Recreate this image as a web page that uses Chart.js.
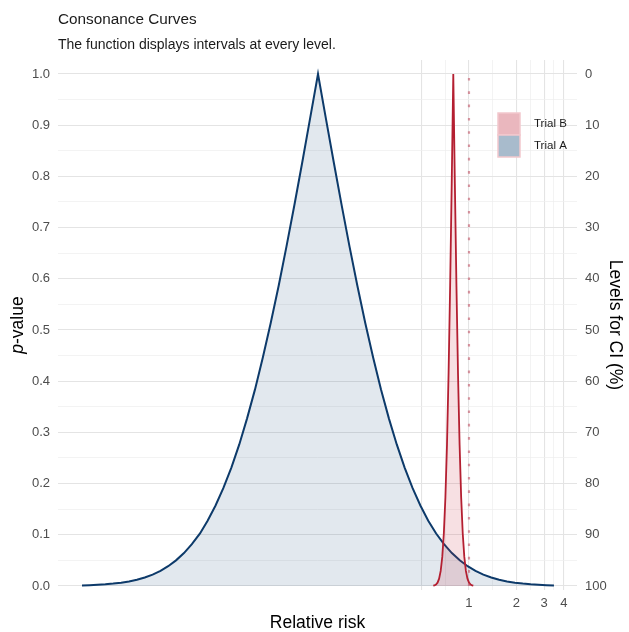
<!DOCTYPE html>
<html><head><meta charset="utf-8">
<script src="https://cdn.jsdelivr.net/npm/chart.js@4.4.1/dist/chart.umd.min.js"></script>
<style>html,body{margin:0;padding:0;background:#fff}canvas{display:block}</style>
</head><body>
<canvas id="c" width="629" height="632"></canvas>
<script>
// ---- text ----
const titleText = "Consonance Curves";
const subtitleText = "The function displays intervals at every level.";
const xAxisTitle = "Relative risk";
const yAxisTitleItalic = "p";
const yAxisTitleRest = "-value";
const y2AxisTitle = "Levels for CI (%)";
const seriesNames = ["Trial A", "Trial B"];

// ---- data ----
const trialA_rr = [0.00349,0.00390,0.00438,0.00491,0.00551,0.00619,0.00694,0.00779,0.00874,0.00980,
  0.0110,0.0123,0.0138,0.0155,0.0174,0.0196,0.0219,0.0246,0.0276,0.0310,
  0.0348,0.0390,0.0438,0.0491,0.0551,0.0619,0.0694,0.0779,0.0874,0.0980,
  0.110,
  0.1234,0.1385,0.1554,0.1743,0.1956,0.2195,0.2463,0.2763,0.3100,0.3479,
  0.3903,0.4379,0.4913,0.5513,0.6186,0.6941,0.7787,0.8738,0.9804,1.100,
  1.234,1.385,1.554,1.743,1.956,2.195,2.463,2.763,3.100,3.463];
const trialA_p = [0.0011,0.0016,0.0023,0.0033,0.0047,0.0065,0.0090,0.0123,0.0167,0.0223,
  0.0295,0.0387,0.0501,0.0643,0.0817,0.1026,0.1276,0.1572,0.1916,0.2313,
  0.2765,0.3274,0.3840,0.4462,0.5138,0.5864,0.6634,0.7440,0.8277,0.9134,
  1.0,
  0.9134,0.8277,0.7440,0.6634,0.5864,0.5138,0.4462,0.3840,0.3274,0.2765,
  0.2313,0.1916,0.1572,0.1276,0.1026,0.0817,0.0643,0.0501,0.0387,0.0295,
  0.0223,0.0167,0.0123,0.0090,0.0065,0.0047,0.0033,0.0023,0.0016,0.0011];

const trialB_rr = [0.5934,0.6031,0.6171,0.6315,0.6462,0.6613,0.6767,0.6924,0.7085,0.7251,0.7419,0.7592,0.7769,
  0.795,
  0.8135,0.8325,0.8519,0.8717,0.8920,0.9128,0.9340,0.9558,0.9781,1.0008,1.0242,1.0480,1.0650];
const trialB_p = [0.00055,0.0011,0.0028,0.0065,0.0143,0.0294,0.0568,0.1024,0.1735,0.2762,0.4142,0.5862,0.7855,
  1.0,
  0.7855,0.5862,0.4142,0.2762,0.1735,0.1024,0.0568,0.0294,0.0143,0.0065,0.0028,0.0011,0.00055];

const nullValue = 1;
const nullLineP = [0, 1];

// ---- ticks ----
const xMajorTicks = [0.5, 1, 2, 3, 4];
const xTickLabels = ["", "1", "2", "3", "4"];
const yMajorTicks = [0, 0.1, 0.2, 0.3, 0.4, 0.5, 0.6, 0.7, 0.8, 0.9, 1.0];
const yTickLabels = ["0.0","0.1","0.2","0.3","0.4","0.5","0.6","0.7","0.8","0.9","1.0"];
const ciLevelTicks = [0, 10, 20, 30, 40, 50, 60, 70, 80, 90, 100];

// ---- derived (gridline helpers) ----
const xMinorTicks = [];
for (let i = 0; i < xMajorTicks.length - 1; i++) xMinorTicks.push(Math.sqrt(xMajorTicks[i] * xMajorTicks[i + 1]));
const yMinorTicks = [];
for (let i = 0; i < yMajorTicks.length - 1; i++) yMinorTicks.push(Math.round((yMajorTicks[i] + yMajorTicks[i + 1]) * 500) / 1000);

const near = (a, b) => Math.abs(a - b) < 1e-6;
const FONT = '"Liberation Sans", Arial, Helvetica, sans-serif';
const MAJOR_GRID = '#e4e4e4';
const MINOR_GRID = '#eeeeee';
const NAVY = '#0d3a6a';
const RED = '#b41f31';

Chart.defaults.font.family = FONT;

const toPts = (xs, ys) => xs.map((x, i) => ({ x: x, y: ys[i] }));

const textPlugin = {
  id: 'texts',
  afterDraw(chart) {
    const ctx = chart.ctx, ca = chart.chartArea;
    ctx.save();
    ctx.fillStyle = '#1a1a1a';
    ctx.textAlign = 'left';
    ctx.textBaseline = 'alphabetic';
    ctx.font = '15.3px ' + FONT;
    ctx.fillText(titleText, ca.left, 24);
    ctx.font = '14px ' + FONT;
    ctx.fillText(subtitleText, ca.left, 49);

    ctx.fillStyle = '#000';
    ctx.font = '17.5px ' + FONT;
    ctx.textAlign = 'center';
    ctx.fillText(xAxisTitle, (ca.left + ca.right) / 2, 628);

    const cy = (ca.top + ca.bottom) / 2;
    // left title, italic p
    ctx.save();
    ctx.translate(23, cy);
    ctx.rotate(-Math.PI / 2);
    const fI = 'italic 17.5px ' + FONT, fR = '17.5px ' + FONT;
    ctx.font = fI; const w1 = ctx.measureText(yAxisTitleItalic).width;
    ctx.font = fR; const w2 = ctx.measureText(yAxisTitleRest).width;
    const x0 = -(w1 + w2) / 2;
    ctx.textAlign = 'left';
    ctx.font = fI; ctx.fillText(yAxisTitleItalic, x0, 0);
    ctx.font = fR; ctx.fillText(yAxisTitleRest, x0 + w1, 0);
    ctx.restore();

    // right title
    ctx.save();
    ctx.translate(610, cy);
    ctx.rotate(Math.PI / 2);
    ctx.font = fR;
    ctx.textAlign = 'center';
    ctx.fillText(y2AxisTitle, 0, 0);
    ctx.restore();

    // legend
    const keyX = 498, keyW = 22, keyH = 22, keyY0 = 113;
    const legendItems = [
      { name: seriesNames[1], fill: '#eab7be' },
      { name: seriesNames[0], fill: '#a8bbcc' }
    ];
    legendItems.forEach((it, i) => {
      const y = keyY0 + i * keyH;
      ctx.fillStyle = it.fill;
      ctx.fillRect(keyX, y, keyW, keyH);
      ctx.strokeStyle = '#f2c8cd';
      ctx.lineWidth = 1.5;
      ctx.strokeRect(keyX, y, keyW, keyH);
      ctx.fillStyle = '#1a1a1a';
      ctx.font = '11.5px ' + FONT;
      ctx.textAlign = 'left';
      ctx.textBaseline = 'middle';
      ctx.fillText(it.name, 534, y + keyH / 2);
    });
    ctx.restore();
  }
};

new Chart(document.getElementById('c'), {
  type: 'line',
  data: {
    datasets: [
      {
        label: 'null',
        data: nullLineP.map(p => ({ x: nullValue, y: p })),
        borderColor: 'rgba(190,70,90,0.55)',
        borderWidth: 2.2,
        borderDash: [2.6, 10.7],
        pointRadius: 0,
        fill: false,
        order: 0
      },
      {
        label: seriesNames[1],
        data: toPts(trialB_rr, trialB_p),
        borderColor: RED,
        backgroundColor: 'rgba(200,45,65,0.15)',
        borderWidth: 1.8,
        pointRadius: 0,
        tension: 0,
        fill: 'origin',
        order: 1
      },
      {
        label: seriesNames[0],
        data: toPts(trialA_rr, trialA_p),
        borderColor: NAVY,
        backgroundColor: 'rgba(13,63,113,0.12)',
        borderWidth: 2,
        pointRadius: 0,
        tension: 0,
        fill: 'origin',
        order: 2
      }
    ]
  },
  options: {
    responsive: false,
    animation: false,
    devicePixelRatio: 1,
    layout: { padding: { top: 60, left: 0, right: 0, bottom: 0 } },
    plugins: { legend: { display: false }, tooltip: { enabled: false }, title: { display: false } },
    scales: {
      x: {
        type: 'logarithmic',
        position: 'bottom',
        min: 0.002458,
        max: 4.851,
        bounds: 'data',
        afterBuildTicks(scale) {
          const vals = xMajorTicks.concat(xMinorTicks).sort((a, b) => a - b);
          scale.ticks = vals.map(v => ({ value: v }));
        },
        afterFit(scale) { scale.height = 42; },
        ticks: {
          autoSkip: false, maxRotation: 0, minRotation: 0, padding: 6,
          color: '#4d4d4d', font: { size: 13 },
          callback(value) {
            const i = xMajorTicks.findIndex(v => near(v, value));
            return i >= 0 ? xTickLabels[i] : '';
          }
        },
        grid: {
          drawTicks: false,
          color(ctx) { return ctx.tick && xMajorTicks.some(v => near(v, ctx.tick.value)) ? MAJOR_GRID : MINOR_GRID; },
          lineWidth(ctx) { return ctx.tick && xMajorTicks.some(v => near(v, ctx.tick.value)) ? 1.1 : 0.7; }
        },
        border: { display: false }
      },
      y: {
        type: 'linear',
        position: 'left',
        min: -0.0078,
        max: 1.0273,
        bounds: 'data',
        afterBuildTicks(scale) {
          const vals = yMajorTicks.concat(yMinorTicks).sort((a, b) => a - b);
          scale.ticks = vals.map(v => ({ value: v }));
        },
        afterFit(scale) { scale.width = 58; },
        ticks: {
          autoSkip: false, padding: 8, color: '#4d4d4d', font: { size: 13 },
          callback(value) {
            const i = yMajorTicks.findIndex(v => near(v, value));
            return i >= 0 ? yTickLabels[i] : '';
          }
        },
        grid: {
          drawTicks: false,
          color(ctx) { return ctx.tick && yMajorTicks.some(v => near(v, ctx.tick.value)) ? MAJOR_GRID : MINOR_GRID; },
          lineWidth(ctx) { return ctx.tick && yMajorTicks.some(v => near(v, ctx.tick.value)) ? 1.1 : 0.7; }
        },
        border: { display: false }
      },
      y2: {
        type: 'linear',
        position: 'right',
        reverse: true,
        min: -2.73,
        max: 100.78,
        bounds: 'data',
        afterBuildTicks(scale) { scale.ticks = ciLevelTicks.map(v => ({ value: v })); },
        afterFit(scale) { scale.width = 52; },
        ticks: {
          autoSkip: false, padding: 8, color: '#4d4d4d', font: { size: 13 },
          callback(value) { return String(value); }
        },
        grid: { display: false, drawTicks: false },
        border: { display: false }
      }
    }
  },
  plugins: [textPlugin]
});
</script>
</body></html>
